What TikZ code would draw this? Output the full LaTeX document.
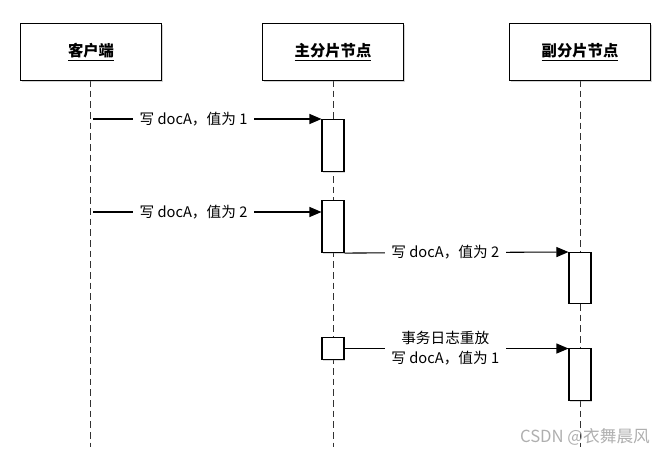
\documentclass[tikz,border=0pt]{standalone}
\usepackage{fontspec}
\setmainfont{Noto Sans CJK SC}
\usetikzlibrary{arrows.meta, positioning, calc, shadows}
\definecolor{lifegray}{RGB}{50, 50, 50}
\definecolor{markgray}{RGB}{175, 175, 175}

\tikzset{
  headbox/.style={draw, line width=0.9pt, fill=white, minimum width=106pt, minimum height=43pt,
    font=\fontsize{11.5}{13}\selectfont\bfseries,
    drop shadow={shadow xshift=1.2pt, shadow yshift=-1.2pt, opacity=0.35}},
  actbox/.style={draw, line width=0.8pt, fill=white, minimum width=16.5pt, inner sep=0pt, anchor=north,
    drop shadow={shadow xshift=0.8pt, shadow yshift=-0.8pt, opacity=0.3}},
  lifeline/.style={draw=lifegray, line width=0.6pt, dash pattern=on 5pt off 3pt},
  msg/.style={line width=0.8pt, -{Triangle[length=9pt, width=7.5pt]}},
  msglabel/.style={fill=white, inner xsep=5pt, inner ysep=2pt, font=\fontsize{11}{15}\selectfont, align=center}
}

\begin{document}
\begin{tikzpicture}[x=0.75pt, y=-0.75pt]
  \useasboundingbox (0,0) rectangle (668,454);

  % Lifelines
  \coordinate (clientend) at (90,447);
  \coordinate (primaryend) at (333,447);
  \coordinate (replicaend) at (580,447);
  \draw[lifeline] (90,80) -- (clientend);
  \draw[lifeline] (333,80) -- (primaryend);
  \draw[lifeline] (580,80) -- (replicaend);

  % Participants
  \node[headbox] (client) at (91,52) {\underline{客户端}};
  \node[headbox] (primary) at (333,52) {\underline{主分片节点}};
  \node[headbox] (replica) at (580,52) {\underline{副分片节点}};

  % Activations
  \node[actbox, minimum height=39pt] (pa1) at (333,119) {};
  \node[actbox, minimum height=39pt] (pa2) at (333,200) {};
  \node[actbox, minimum height=38pt] (ra1) at (580,252) {};
  \node[actbox, minimum height=16.5pt] (pa3) at (333,337) {};
  \node[actbox, minimum height=39pt] (ra2) at (580,348) {};

  % Messages
  \coordinate (w1) at (93,119);
  \coordinate (w2) at (93,212);
  \draw[msg] (w1) -- (w1 -| pa1.west) node[msglabel, pos=0.44] (m1) {写 docA，值为 1};
  \draw[msg] (w2) -- (w2 -| pa2.west) node[msglabel, pos=0.44] (m2) {写 docA，值为 2};
  \draw[msg] (pa2.south east) -- (ra1.north west) node[msglabel, pos=0.45] (m3) {写 docA，值为 2};
  \draw[msg] (pa3.east) -- (pa3.east -| ra2.west) node[msglabel, pos=0.45] (m4) {事务日志重放\\写 docA，值为 1};

  % Watermark
  \node[text=markgray, font=\fontsize{12.5}{14}\selectfont] (mark) at (585,437) {CSDN @衣舞晨风};
\end{tikzpicture}
\end{document}
